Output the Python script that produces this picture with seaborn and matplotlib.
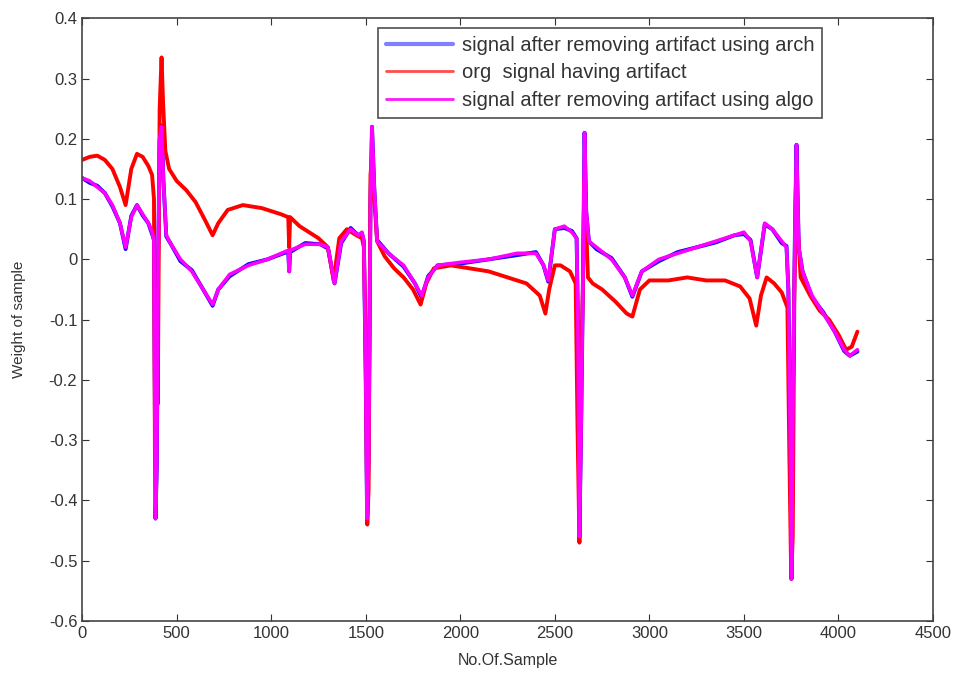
import numpy as np
import pandas as pd
import matplotlib
matplotlib.use("Agg")
import matplotlib.pyplot as plt
import seaborn as sns

# samples (x = sample index, y = weight)
org_x = [0, 40, 80, 120, 160, 200, 230, 260, 290, 320, 350, 370, 380, 385, 392, 400, 410,
         420, 428, 440, 460, 500, 550, 600, 650, 690, 720, 770, 850, 950, 1050, 1090, 1095,
         1100, 1150, 1200, 1250, 1300, 1330, 1360, 1400, 1450, 1480, 1490, 1500, 1508, 1515,
         1525, 1535, 1545, 1560, 1600, 1650, 1700, 1750, 1790, 1820, 1860, 1950, 2050, 2150,
         2250, 2350, 2420, 2450, 2470, 2500, 2530, 2580, 2610, 2620, 2630, 2638, 2648, 2656,
         2664, 2675, 2700, 2750, 2820, 2880, 2910, 2950, 3000, 3100, 3200, 3300, 3400, 3480,
         3530, 3565, 3590, 3620, 3660, 3700, 3730, 3740, 3750, 3758, 3766, 3775, 3785, 3800,
         3850, 3900, 3950, 4000, 4040, 4070, 4100]
org_y = [0.165, 0.17, 0.172, 0.165, 0.15, 0.12, 0.09, 0.15, 0.175, 0.17, 0.155, 0.14, 0.10,
         -0.32, -0.05, -0.24, 0.25, 0.335, 0.26, 0.18, 0.15, 0.13, 0.115, 0.095, 0.065, 0.04,
         0.06, 0.082, 0.09, 0.085, 0.075, 0.07, 0.02, 0.07, 0.055, 0.045, 0.035, 0.02, -0.035,
         0.035, 0.05, 0.04, 0.035, 0.02, -0.14, -0.44, -0.38, 0.14, 0.18, 0.1, 0.03, 0.005,
         -0.015, -0.03, -0.05, -0.075, -0.04, -0.015, -0.01, -0.015, -0.02, -0.03, -0.04,
         -0.06, -0.09, -0.05, -0.01, -0.01, -0.02, -0.04, -0.28, -0.47, -0.2, -0.05, 0.13,
         0.07, -0.03, -0.04, -0.05, -0.07, -0.09, -0.095, -0.05, -0.035, -0.035, -0.03,
         -0.035, -0.035, -0.045, -0.065, -0.11, -0.06, -0.03, -0.04, -0.055, -0.08, -0.32,
         -0.53, -0.46, -0.08, 0.12, 0.05, -0.03, -0.06, -0.085, -0.1, -0.125, -0.15, -0.145,
         -0.12]

algo_x = [0, 40, 80, 120, 160, 200, 230, 260, 290, 320, 350, 370, 380, 388, 395, 402, 410,
          420, 430, 445, 470, 520, 580, 640, 690, 720, 780, 880, 980, 1090, 1095, 1100, 1180,
          1260, 1300, 1335, 1370, 1420, 1460, 1480, 1490, 1500, 1507, 1515, 1525, 1533, 1545,
          1560, 1620, 1700, 1760, 1795, 1830, 1880, 2000, 2150, 2300, 2400, 2440, 2465, 2500,
          2550, 2590, 2615, 2622, 2630, 2640, 2650, 2657, 2666, 2680, 2720, 2800, 2870, 2910,
          2960, 3050, 3150, 3250, 3350, 3450, 3500, 3535, 3570, 3610, 3650, 3700, 3725, 3735,
          3745, 3752, 3760, 3770, 3778, 3790, 3810, 3860, 3920, 3980, 4030, 4060, 4100]
algo_y = [0.135, 0.13, 0.12, 0.11, 0.09, 0.06, 0.02, 0.07, 0.09, 0.075, 0.06, 0.045, 0.03,
          -0.43, -0.34, 0.0, 0.2, 0.22, 0.13, 0.04, 0.025, 0.0, -0.02, -0.05, -0.075, -0.05,
          -0.025, -0.01, 0.0, 0.015, -0.02, 0.015, 0.025, 0.025, 0.02, -0.04, 0.03, 0.05,
          0.04, 0.045, 0.03, -0.2, -0.43, -0.33, 0.1, 0.22, 0.12, 0.03, 0.01, -0.01, -0.04,
          -0.06, -0.03, -0.01, -0.005, 0.0, 0.01, 0.01, -0.01, -0.035, 0.05, 0.055, 0.045,
          0.035, -0.1, -0.46, -0.25, 0.0, 0.21, 0.08, 0.03, 0.02, 0.0, -0.03, -0.06, -0.02,
          0.0, 0.01, 0.02, 0.03, 0.04, 0.045, 0.03, -0.03, 0.06, 0.05, 0.03, 0.02, -0.05,
          -0.3, -0.53, -0.2, 0.05, 0.19, 0.02, -0.02, -0.06, -0.09, -0.12, -0.15, -0.16,
          -0.15]

# the arch result sits almost exactly under the algo one
arch_x = algo_x
arch_y = [v + d for v, d in zip(algo_y, [0.0, -0.003, 0.002, 0.0, -0.002] * 21)][:len(algo_x)]

labels = ["signal after removing artifact using arch",
          "org  signal having artifact",
          "signal after removing artifact using algo"]

yticks = [-0.6, -0.5, -0.4, -0.3, -0.2, -0.1, 0, 0.1, 0.2, 0.3, 0.4]
ytick_labels = ["-0.6", "-0.5", "-0.4", "-0.3", "-0.2", "-0.1", "0", "0.1", "0.2", "0.3", "0.4"]

sns.set_style("ticks")
plt.rcParams["font.family"] = ["Liberation Sans", "DejaVu Sans"]

fig = plt.figure(figsize=(9.55, 6.75), dpi=100)
ax = fig.add_axes([0.086, 0.08, 0.891, 0.893])

sns.lineplot(x=arch_x, y=arch_y, ax=ax, color="#0000ff", lw=2.8, sort=False,
             estimator=None, label=labels[0])
sns.lineplot(x=org_x, y=org_y, ax=ax, color="#ff0000", lw=2.8, sort=False,
             estimator=None, label=labels[1])
sns.lineplot(x=algo_x, y=algo_y, ax=ax, color="#ff00ff", lw=2.6, sort=False,
             estimator=None, label=labels[2])

ax.set_xlim(0, 4500)
ax.set_ylim(-0.6, 0.4)
ax.set_xticks(np.arange(0, 4501, 500))
ax.set_yticks(yticks)
ax.set_yticklabels(ytick_labels)
ax.tick_params(direction="in", top=True, right=True, labelsize=12, colors="#333333",
               length=5)
for s in ax.spines.values():
    s.set_color("#444444")
    s.set_linewidth(1.2)
ax.set_xlabel("No.Of.Sample", fontsize=11.5, color="#333333", labelpad=9)
ax.set_ylabel("Weight of sample", fontsize=11, color="#333333", labelpad=16)

leg = ax.legend(loc="upper left", bbox_to_anchor=(0.348, 0.984), borderaxespad=0,
                fontsize=14.5, frameon=True, fancybox=False, edgecolor="#222222",
                handlelength=3.3, handletextpad=0.45, borderpad=0.4, labelspacing=0.42)
leg.get_frame().set_linewidth(1.2)
for h, a in zip(leg.get_lines(), [0.5, 0.7, 0.9]):
    h.set_alpha(a)
    h.set_linewidth(3 if a == 0.5 else 2)
for t in leg.get_texts():
    t.set_color("#333333")

fig.savefig("out.png", dpi=100)
